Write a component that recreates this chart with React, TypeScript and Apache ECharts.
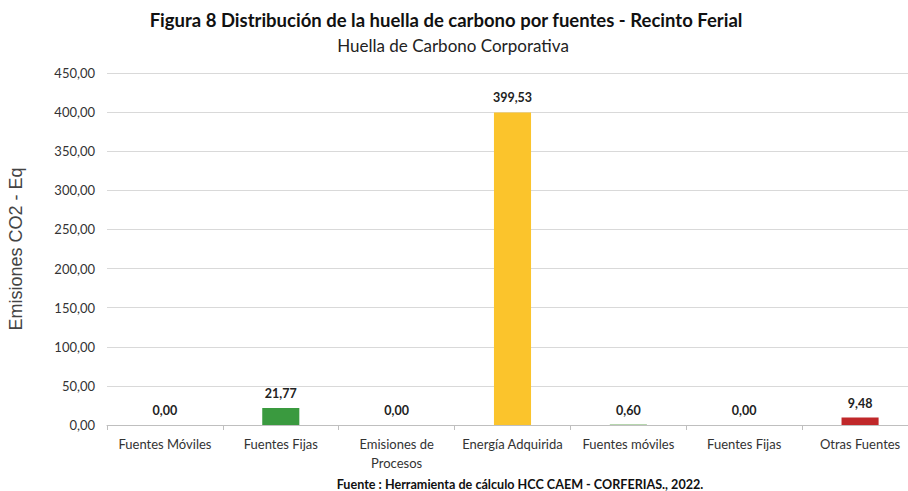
import React, { useEffect, useRef } from "react";
import * as echarts from "echarts";

const categories = [
  "Fuentes Móviles",
  "Fuentes Fijas",
  "Emisiones de\nProcesos",
  "Energía Adquirida",
  "Fuentes móviles",
  "Fuentes Fijas",
  "Otras Fuentes",
];
const values = [0.0, 21.77, 0.0, 399.53, 0.6, 0.0, 9.48];
const barColors = ["#3a9a3f", "#3a9a3f", "#3a9a3f", "#fbc42c", "#6fae5f", "#3a9a3f", "#c0282a"];

const fmt = (v: number) => v.toFixed(2).replace(".", ",");
const FONT = "Lato, 'Open Sans', sans-serif";

export default function App() {
  const ref = useRef<HTMLDivElement>(null);
  useEffect(() => {
    const chart = echarts.init(ref.current!, undefined, { renderer: "svg" });
    chart.setOption({
      animation: false,
      backgroundColor: "#ffffff",
      title: [
        {
          text: "Figura 8 Distribución de la huella de carbono por fuentes - Recinto Ferial",
          left: 441,
          textAlign: "center",
          top: 5,
          textStyle: { fontFamily: FONT, fontSize: 18.5, fontWeight: "bold", color: "#111" },
        },
        {
          text: "Huella de Carbono Corporativa",
          left: 448,
          textAlign: "center",
          top: 32,
          textStyle: { fontFamily: FONT, fontSize: 17, fontWeight: "normal", color: "#222" },
        },
        {
          text: "Fuente : Herramienta de cálculo HCC CAEM - CORFERIAS., 2022.",
          left: 515,
          textAlign: "center",
          top: 473,
          textStyle: { fontFamily: FONT, fontSize: 12.6, fontWeight: "bold", color: "#111" },
        },
      ],
      grid: { left: 107, right: -10, top: 73, bottom: 66, outerBoundsMode: "none", containLabel: false },
      xAxis: {
        type: "category",
        data: categories,
        axisLine: { lineStyle: { color: "#bfbfbf" } },
        axisTick: { show: true, alignWithLabel: false, length: 5, lineStyle: { color: "#bfbfbf" } },
        axisLabel: {
          interval: 0,
          fontFamily: FONT,
          fontSize: 13,
          color: "#333",
          margin: 9,
          lineHeight: 19,
        },
      },
      yAxis: {
        type: "value",
        min: 0,
        max: 450,
        interval: 50,
        name: "Emisiones CO2 - Eq",
        nameLocation: "middle",
        nameGap: 82,
        nameTextStyle: { fontFamily: "'Liberation Sans', Arial, sans-serif", fontSize: 18, color: "#444" },
        axisLine: { show: false },
        axisTick: { show: false },
        splitLine: { lineStyle: { color: "#d9d9d9" } },
        axisLabel: {
          formatter: (v: number) => fmt(v),
          fontFamily: FONT,
          fontSize: 13,
          color: "#333",
          margin: 12,
        },
      },
      series: [
        {
          type: "bar",
          data: values.map((v, i) => ({ value: v, itemStyle: { color: barColors[i] } })),
          barWidth: "32%",
          label: {
            show: true,
            position: "top",
            distance: 8,
            formatter: (p: any) => fmt(p.value),
            fontFamily: FONT,
            fontSize: 12.5,
            fontWeight: "bold",
            color: "#222",
          },
        },
      ],
    });
    return () => chart.dispose();
  }, []);
  return <div ref={ref} style={{ width: 908, height: 491, position: "absolute", left: 0, top: 0 }} />;
}
